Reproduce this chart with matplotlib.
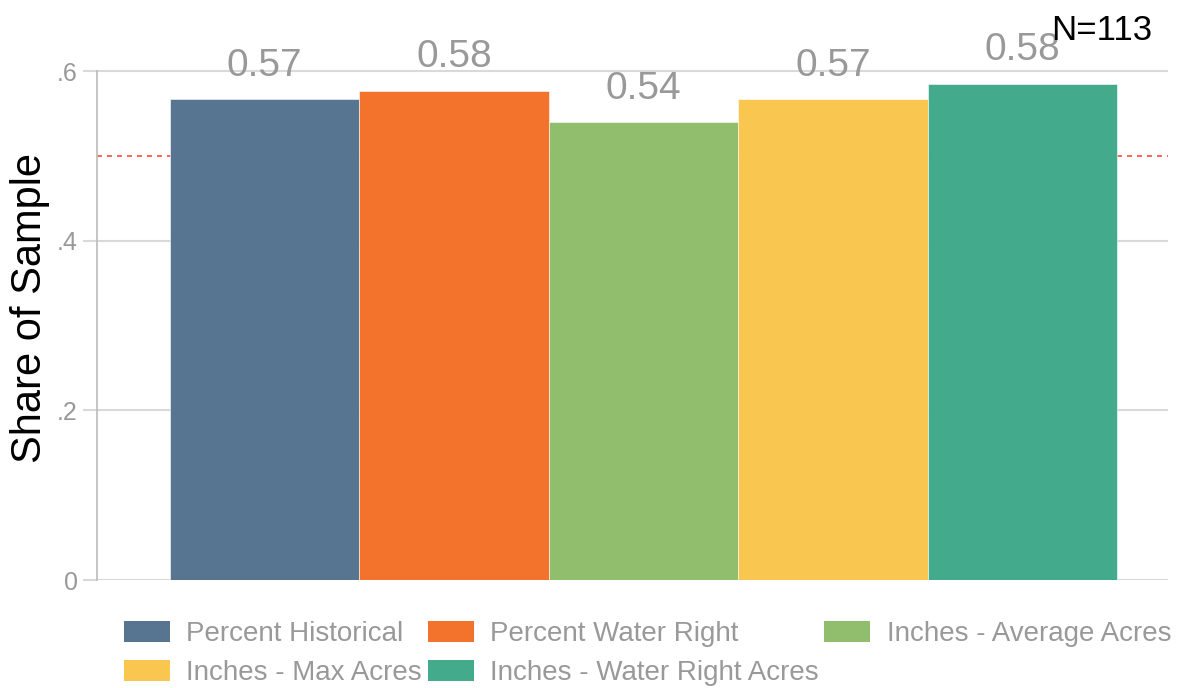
import matplotlib
matplotlib.use("Agg")
import matplotlib.pyplot as plt
from matplotlib.patches import Patch

plt.rcParams['font.family'] = ['Liberation Sans', 'DejaVu Sans']

series = ['Percent Historical', 'Percent Water Right', 'Inches - Average Acres',
          'Inches - Max Acres', 'Inches - Water Right Acres']
values = [0.567, 0.577, 0.540, 0.567, 0.585]
labels = ['0.57', '0.58', '0.54', '0.57', '0.58']
colors = ['#577590', '#F3722C', '#90BE6D', '#F9C74F', '#43AA8B']
yticks = [0, 0.2, 0.4, 0.6]
yticklabels = ['0', '.2', '.4', '.6']
ref_line = 0.5
n_obs = 113

fig = plt.figure(figsize=(11.81, 6.88), dpi=100)
ax = fig.add_axes([97/1181, 1 - 580/688, (1168-97)/1181, (580-35)/688])

x = list(range(len(values)))
bars = ax.bar(x, values, width=1.0, color=colors, edgecolor='white', linewidth=0.4, zorder=3)
ax.axhline(ref_line, color='#FF4B3A', linestyle=(0, (3, 3)), linewidth=1.2, zorder=2)

for b, lab in zip(bars, labels):
    ax.annotate(lab, (b.get_x() + b.get_width()/2, b.get_height()),
                xytext=(0, 11), textcoords='offset points', ha='center', va='bottom',
                fontsize=28, color='#999999', annotation_clip=False, zorder=4)

ax.set_xlim(-0.885, 4.769)
ax.set_ylim(0, 0.6 * (580 - 35) / (580 - 71))
ax.set_xticks([])
ax.set_yticks(yticks)
ax.set_yticklabels(yticklabels)
ax.tick_params(axis='y', length=10, width=1.5, color='#D9D9D9', labelcolor='#999999',
               labelsize=18, pad=4)
ax.grid(axis='y', color='#D9D9D9', linewidth=1.5, zorder=0)
ax.set_axisbelow(True)
for s in ['top', 'right', 'bottom']:
    ax.spines[s].set_visible(False)
ax.spines['left'].set_color('#BBBBBB')
ax.spines['left'].set_linewidth(1.2)
ax.spines['left'].set_bounds(0, 0.6)
ax.set_ylabel('Share of Sample', fontsize=30, color='black', labelpad=5)

fig.text(1152/1181, 1 - 40/688, 'N=%d' % n_obs, ha='right', va='baseline', fontsize=25, color='black')

handles = [Patch(facecolor=c, edgecolor='none') for c in colors]
order = [0, 3, 1, 4, 2]
fig.legend([handles[i] for i in order], [series[i] for i in order], ncol=3,
           loc='upper left', bbox_to_anchor=(124/1181, 1 - 621/688), frameon=False,
           fontsize=20, labelcolor='#999999', handlelength=1.65, handleheight=0.8,
           handletextpad=0.6, columnspacing=0.2, labelspacing=0.45,
           borderpad=0, borderaxespad=0)

fig.savefig('out.png', dpi=100)
